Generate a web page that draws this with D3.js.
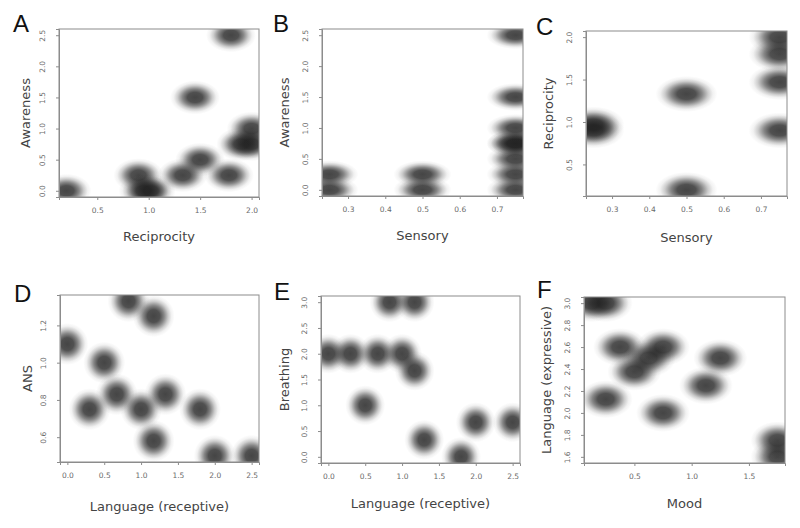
<!DOCTYPE html>
<html>
<head>
<meta charset="utf-8">
<script src="https://cdn.jsdelivr.net/npm/d3@7/dist/d3.min.js"></script>
<style>
body { margin: 0; background: #fff; }
text { font-family: "DejaVu Sans", sans-serif; }
</style>
</head>
<body>
<svg id="chart" width="800" height="528"></svg>
<script>
// panel A: Reciprocity vs Awareness
const aX = [0.2, 0.9, 0.95, 1.02, 1.33, 1.5, 1.45, 1.78, 1.8, 1.9, 2.0, 2.0];
const aY = [0, 0.25, 0, 0, 0.25, 0.5, 1.5, 0.25, 2.5, 0.75, 0.75, 1.0];
// panel B: Sensory vs Awareness
const bX = [0.25, 0.25, 0.5, 0.5, 0.75, 0.75, 0.75, 0.75, 0.75, 0.75, 0.75, 0.75];
const bY = [0, 0.25, 0, 0.25, 0, 0.25, 0.5, 0.75, 0.75, 1.0, 1.5, 2.5];
// panel C: Sensory vs Reciprocity
const cX = [0.25, 0.25, 0.5, 0.5, 0.75, 0.75, 0.75, 0.75];
const cY = [0.9, 0.97, 1.33, 0.2, 0.9, 1.47, 1.8, 2.0];
// panel D: Language (receptive) vs ANS
const dX = [0.83, 1.17, 0, 0.5, 0.67, 1.33, 0.3, 1.0, 1.8, 1.17, 2.0, 2.5];
const dY = [1.33, 1.25, 1.1, 1.0, 0.83, 0.83, 0.75, 0.75, 0.75, 0.58, 0.5, 0.5];
// panel E: Language (receptive) vs Breathing
const eX = [0.83, 1.17, 0, 0.3, 0.67, 1.0, 1.17, 0.5, 1.3, 2.0, 2.5, 1.8];
const eY = [3, 3, 2, 2, 2, 2, 1.67, 1.0, 0.33, 0.67, 0.67, 0];
// panel F: Mood vs Language (expressive)
const fX = [0.125, 0.25, 0.375, 0.75, 0.625, 0.5, 1.25, 1.125, 0.25, 0.75, 1.75, 1.75];
const fY = [3.0, 3.0, 2.6, 2.6, 2.5, 2.375, 2.5, 2.25, 2.125, 2.0, 1.6, 1.75];

// tick labels
const ticksA = { x: [0.5, 1.0, 1.5, 2.0], y: [0, 0.5, 1.0, 1.5, 2.0, 2.5] };
const ticksB = { x: [0.3, 0.4, 0.5, 0.6, 0.7], y: [0, 0.5, 1.0, 1.5, 2.0, 2.5] };
const ticksC = { x: [0.3, 0.4, 0.5, 0.6, 0.7], y: [0.5, 1.0, 1.5, 2.0] };
const ticksD = { x: [0, 0.5, 1.0, 1.5, 2.0, 2.5], y: [0.6, 0.8, 1.0, 1.2] };
const ticksE = { x: [0, 0.5, 1.0, 1.5, 2.0, 2.5], y: [0, 0.5, 1.0, 1.5, 2.0, 2.5, 3.0] };
const ticksF = { x: [0.5, 1.0, 1.5], y: [1.6, 1.8, 2.0, 2.2, 2.4, 2.6, 2.8, 3.0] };

const panels = [
  { id: 'A', x: aX, y: aY, t: ticksA, xl: 'Reciprocity', yl: 'Awareness',
    box: [59, 29, 259, 197], letter: [13, 32], ytx: 25, xty: 241, rx: 25, ry: 17 },
  { id: 'B', x: bX, y: bY, t: ticksB, xl: 'Sensory', yl: 'Awareness',
    box: [322, 29, 523, 196], letter: [273, 32], ytx: 284, xty: 240, rx: 29, ry: 14 },
  { id: 'C', x: cX, y: cY, t: ticksC, xl: 'Sensory', yl: 'Reciprocity',
    box: [586, 31, 787, 196], letter: [536, 35], ytx: 548, xty: 242, rx: 31, ry: 18 },
  { id: 'D', x: dX, y: dY, t: ticksD, xl: 'Language (receptive)', yl: 'ANS',
    box: [60, 295, 259, 462], letter: [14, 302], ytx: 27, xty: 511, rx: 21, ry: 21 },
  { id: 'E', x: eX, y: eY, t: ticksE, xl: 'Language (receptive)', yl: 'Breathing',
    box: [321, 296, 520, 463], letter: [274, 300], ytx: 284, xty: 508, rx: 20, ry: 20 },
  { id: 'F', x: fX, y: fY, t: ticksF, xl: 'Mood', yl: 'Language (expressive)',
    box: [584, 297, 785, 463], letter: [537, 298], ytx: 546, xty: 508, rx: 27, ry: 19 }
];

const svg = d3.select('#chart');
const defs = svg.append('defs');

// soft blob like smoothScatter
const grad = defs.append('radialGradient').attr('id', 'blob');
[[0, 0.82], [0.3, 0.77], [0.5, 0.53], [0.7, 0.22], [0.85, 0.06], [1, 0]].forEach(s => {
  grad.append('stop').attr('offset', s[0]).attr('stop-color', '#1c1c1c').attr('stop-opacity', s[1]);
});

const fmt = d3.format('.1f');

// R style range: data extent widened by 4%
function pad(vals) {
  let e = d3.extent(vals);
  let d = (e[1] - e[0]) * 0.04;
  return [e[0] - d, e[1] + d];
}

panels.forEach(p => {
  let [x0, y0, x1, y1] = p.box;
  let xs = d3.scaleLinear().domain(pad(p.x)).range([x0, x1]);
  let ys = d3.scaleLinear().domain(pad(p.y)).range([y1, y0]);
  let g = svg.append('g');

  defs.append('clipPath').attr('id', 'clip' + p.id)
    .append('rect').attr('x', x0).attr('y', y0).attr('width', x1 - x0).attr('height', y1 - y0);

  g.append('g').attr('clip-path', 'url(#clip' + p.id + ')')
    .selectAll('ellipse')
    .data(d3.range(p.x.length))
    .enter()
    .append('ellipse')
    .attr('cx', i => xs(p.x[i]))
    .attr('cy', i => ys(p.y[i]))
    .attr('rx', p.rx)
    .attr('ry', p.ry)
    .attr('fill', 'url(#blob)');

  // box
  g.append('rect')
    .attr('x', x0).attr('y', y0).attr('width', x1 - x0).attr('height', y1 - y0)
    .attr('fill', 'none').attr('stroke', '#8c8c8c').attr('stroke-width', 1);

  // x axis
  let xa = g.append('g').attr('transform', 'translate(0,' + y1 + ')')
    .call(d3.axisBottom(xs).tickValues(p.t.x).tickFormat(fmt).tickSize(3).tickPadding(8));
  // y axis, labels turned like R
  let ya = g.append('g').attr('transform', 'translate(' + x0 + ',0)')
    .call(d3.axisLeft(ys).tickValues(p.t.y).tickFormat(fmt).tickSize(3));
  [xa, ya].forEach(a => {
    a.select('.domain').attr('stroke', '#8c8c8c');
    a.selectAll('line').attr('stroke', '#8c8c8c');
    a.selectAll('text').attr('fill', '#6a6a6a').style('font-size', '7.5px');
  });
  ya.selectAll('text')
    .attr('x', null).attr('dy', null)
    .attr('text-anchor', 'middle')
    .attr('transform', 'translate(-14,0) rotate(-90)');

  // titles
  g.append('text').attr('x', (x0 + x1) / 2).attr('y', p.xty)
    .attr('text-anchor', 'middle').attr('fill', '#444').style('font-size', '13px')
    .text(p.xl);
  g.append('text')
    .attr('transform', 'translate(' + p.ytx + ',' + (y0 + y1) / 2 + ') rotate(-90)')
    .attr('dy', '0.35em')
    .attr('text-anchor', 'middle').attr('fill', '#444').style('font-size', '13px')
    .text(p.yl);
  g.append('text').attr('x', p.letter[0]).attr('y', p.letter[1])
    .attr('fill', '#111').style('font-family', '"Liberation Sans", sans-serif').style('font-size', '24px')
    .text(p.id);
});
</script>
</body>
</html>
